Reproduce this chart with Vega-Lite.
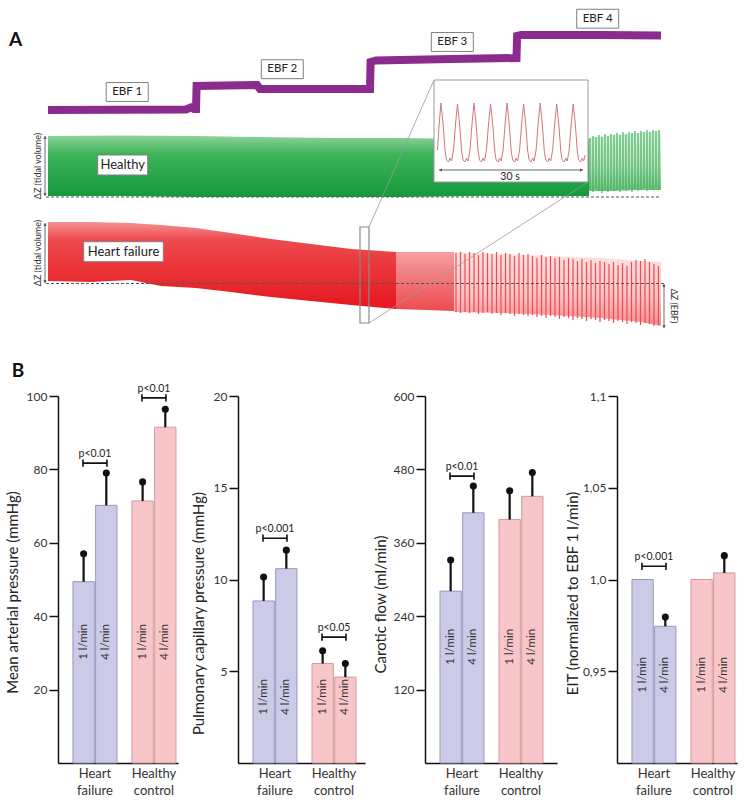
{
  "$schema": "https://vega.github.io/schema/vega-lite/v6.json",
  "padding": {"left": 5, "top": 0, "right": 0, "bottom": 0},
  "background": "white",
  "config": {
    "view": {"stroke": null},
    "font": "Lato",
    "text": {"font": "Lato"},
    "axisY": {"domainColor": "#111", "domainWidth": 1.5, "tickColor": "#111", "tickWidth": 1.5, "tickSize": 9, "labelFont": "Lato", "labelFontSize": 12, "labelColor": "#333", "labelPadding": 2, "titleFont": "Lato", "titleFontSize": 15, "titleFontWeight": "normal", "titleColor": "#222", "grid": false},
    "axisX": {"domainColor": "#111", "domainWidth": 1.5, "ticks": false, "labelFont": "Lato", "labelFontSize": 13, "labelColor": "#333", "labelPadding": 4, "labelLineHeight": 17, "labelAngle": 0, "labelBaseline": "top", "grid": false, "title": null}
  },
  "datasets": {
    "bars": [
      {"panel": "MAP", "group": "HF", "flow": "1 l/min", "value": 49.4, "err": 57.0},
      {"panel": "MAP", "group": "HF", "flow": "4 l/min", "value": 70.2, "err": 79.0},
      {"panel": "MAP", "group": "HC", "flow": "1 l/min", "value": 71.4, "err": 76.6},
      {"panel": "MAP", "group": "HC", "flow": "4 l/min", "value": 91.5, "err": 96.4},
      {"panel": "PCP", "group": "HF", "flow": "1 l/min", "value": 8.83, "err": 10.14},
      {"panel": "PCP", "group": "HF", "flow": "4 l/min", "value": 10.59, "err": 11.6},
      {"panel": "PCP", "group": "HC", "flow": "1 l/min", "value": 5.42, "err": 6.12},
      {"panel": "PCP", "group": "HC", "flow": "4 l/min", "value": 4.68, "err": 5.42},
      {"panel": "CF", "group": "HF", "flow": "1 l/min", "value": 281, "err": 332},
      {"panel": "CF", "group": "HF", "flow": "4 l/min", "value": 409, "err": 453},
      {"panel": "CF", "group": "HC", "flow": "1 l/min", "value": 398, "err": 445},
      {"panel": "CF", "group": "HC", "flow": "4 l/min", "value": 436, "err": 475},
      {"panel": "EIT", "group": "HF", "flow": "1 l/min", "value": 1.0, "err": null},
      {"panel": "EIT", "group": "HF", "flow": "4 l/min", "value": 0.9745, "err": 0.9795},
      {"panel": "EIT", "group": "HC", "flow": "1 l/min", "value": 1.0, "err": null},
      {"panel": "EIT", "group": "HC", "flow": "4 l/min", "value": 1.0036, "err": 1.013}
    ],
    "sig": [
      {"panel": "MAP", "group": "HF", "p": 81.7, "label": "p<0.01"},
      {"panel": "MAP", "group": "HC", "p": 99.5, "label": "p<0.01"},
      {"panel": "PCP", "group": "HF", "p": 12.25, "label": "p<0.001"},
      {"panel": "PCP", "group": "HC", "p": 6.86, "label": "p<0.05"},
      {"panel": "CF", "group": "HF", "p": 469, "label": "p<0.01"},
      {"panel": "EIT", "group": "HF", "p": 1.0072, "label": "p<0.001"}
    ]
  },
  "bounds": "flush",
  "spacing": 56,
  "vconcat": [
    {
      "width": 692,
      "height": 340,
      "encoding": {
        "x": {"field": "t", "type": "quantitative", "scale": {"domain": [57, 749], "nice": false, "zero": false}, "axis": null},
        "y": {"field": "s", "type": "quantitative", "scale": {"domain": [0, 340], "nice": false, "zero": false, "reverse": true}, "axis": null}
      },
      "layer": [
        {
          "data": {"values": [
            {"t": 63.3, "kind": "minor"}, {"t": 82.7, "kind": "major"}, {"t": 102.3, "kind": "minor"}, {"t": 121.7, "kind": "minor"}, {"t": 141, "kind": "minor"}, {"t": 160.7, "kind": "minor"}, {"t": 180, "kind": "major"}, {"t": 199.5, "kind": "minor"}, {"t": 219, "kind": "minor"}, {"t": 238.5, "kind": "minor"}, {"t": 258, "kind": "minor"}, {"t": 277.5, "kind": "major"}, {"t": 297, "kind": "minor"}, {"t": 316.5, "kind": "minor"}, {"t": 336, "kind": "minor"}, {"t": 355.5, "kind": "minor"}, {"t": 375, "kind": "major"}, {"t": 394.5, "kind": "minor"}, {"t": 414, "kind": "minor"}, {"t": 433.5, "kind": "minor"}, {"t": 453, "kind": "minor"}, {"t": 472.5, "kind": "major"}, {"t": 492, "kind": "minor"}, {"t": 511.5, "kind": "minor"}, {"t": 531, "kind": "minor"}, {"t": 550.5, "kind": "minor"}, {"t": 570, "kind": "major"}, {"t": 589.5, "kind": "minor"}, {"t": 609, "kind": "minor"}, {"t": 628.5, "kind": "minor"}, {"t": 648, "kind": "minor"}
          ]},
          "mark": {"type": "rule", "strokeWidth": 1},
          "encoding": {
            "y": {"datum": 30}, "y2": {"datum": 119},
            "color": {"field": "kind", "type": "nominal", "scale": {"domain": ["minor", "major"], "range": ["#c2e6f2", "#86cde6"]}, "legend": null}
          }
        },
        {
          "data": {"values": [
            {"s": 32.3, "kind": "major"}, {"s": 38.7, "kind": "minor"}, {"s": 45, "kind": "minor"}, {"s": 51.4, "kind": "minor"}, {"s": 57.8, "kind": "minor"}, {"s": 64.2, "kind": "minor"}, {"s": 70.6, "kind": "minor"}, {"s": 77, "kind": "minor"}, {"s": 83.4, "kind": "major"}, {"s": 89.8, "kind": "minor"}, {"s": 96.2, "kind": "minor"}, {"s": 102.6, "kind": "minor"}, {"s": 109, "kind": "minor"}, {"s": 115.4, "kind": "minor"}
          ]},
          "mark": {"type": "rule", "strokeWidth": 1},
          "encoding": {
            "x": {"datum": 47}, "x2": {"datum": 660},
            "color": {"field": "kind", "type": "nominal", "scale": {"domain": ["minor", "major"], "range": ["#c2e6f2", "#86cde6"]}, "legend": null}
          }
        },
        {
          "data": {"values": [
            {"t": 47, "hi": 136, "lo": 196}, {"t": 120, "hi": 135.5, "lo": 196}, {"t": 195, "hi": 136, "lo": 197}, {"t": 260, "hi": 137, "lo": 197}, {"t": 330, "hi": 138, "lo": 197}, {"t": 400, "hi": 138, "lo": 197}, {"t": 470, "hi": 139, "lo": 196}, {"t": 540, "hi": 139, "lo": 196}, {"t": 588, "hi": 139, "lo": 196}
          ]},
          "mark": {"type": "area", "color": {"gradient": "linear", "x1": 0, "y1": 0, "x2": 0, "y2": 1, "stops": [{"offset": 0, "color": "#8fd39a"}, {"offset": 0.3, "color": "#3fb35a"}, {"offset": 1, "color": "#14993c"}]}},
          "encoding": {"y": {"field": "hi", "type": "quantitative"}, "y2": {"field": "lo"}}
        },
        {
          "data": {"values": [
            {"t": 588, "hi": 138, "lo": 191}, {"t": 610, "hi": 135, "lo": 191}, {"t": 635, "hi": 133, "lo": 190}, {"t": 660, "hi": 131, "lo": 190}
          ]},
          "mark": {"type": "area", "color": {"gradient": "linear", "x1": 0, "y1": 0, "x2": 0, "y2": 1, "stops": [{"offset": 0, "color": "#e1f3e4"}, {"offset": 0.6, "color": "#b5e1bc"}, {"offset": 1, "color": "#6cc27c"}]}},
          "encoding": {"y": {"field": "hi", "type": "quantitative"}, "y2": {"field": "lo"}}
        },
        {
          "data": {"values": [
            {"t": 589, "hi": 138, "lo": 190}, {"t": 592, "hi": 136, "lo": 192}, {"t": 595, "hi": 137, "lo": 189}, {"t": 598, "hi": 135, "lo": 191}, {"t": 601, "hi": 137, "lo": 193}, {"t": 604, "hi": 134, "lo": 190}, {"t": 607, "hi": 136, "lo": 192}, {"t": 610, "hi": 134, "lo": 189}, {"t": 613, "hi": 135, "lo": 191}, {"t": 616, "hi": 133, "lo": 190}, {"t": 619, "hi": 135, "lo": 192}, {"t": 622, "hi": 132, "lo": 189}, {"t": 625, "hi": 134, "lo": 191}, {"t": 628, "hi": 132, "lo": 190}, {"t": 631, "hi": 133, "lo": 192}, {"t": 634, "hi": 131, "lo": 189}, {"t": 637, "hi": 133, "lo": 191}, {"t": 640, "hi": 131, "lo": 190}, {"t": 643, "hi": 132, "lo": 188}, {"t": 646, "hi": 130, "lo": 191}, {"t": 649, "hi": 132, "lo": 189}, {"t": 652, "hi": 130, "lo": 190}, {"t": 655, "hi": 131, "lo": 188}, {"t": 658, "hi": 130, "lo": 190}
          ]},
          "mark": {"type": "rule", "color": "#3aae55", "strokeWidth": 1.1},
          "encoding": {"y": {"field": "hi", "type": "quantitative"}, "y2": {"field": "lo"}}
        },
        {
          "data": {"values": [
            {"t": 47, "hi": 222, "lo": 281}, {"t": 90, "hi": 222, "lo": 282}, {"t": 130, "hi": 223, "lo": 280}, {"t": 160, "hi": 225, "lo": 286}, {"t": 195, "hi": 228, "lo": 288}, {"t": 230, "hi": 233, "lo": 292}, {"t": 270, "hi": 239, "lo": 297}, {"t": 310, "hi": 244, "lo": 301}, {"t": 350, "hi": 249, "lo": 305}, {"t": 395, "hi": 252, "lo": 309}
          ]},
          "mark": {"type": "area", "color": {"gradient": "linear", "x1": 0, "y1": 0, "x2": 0, "y2": 1, "stops": [{"offset": 0, "color": "#f49294"}, {"offset": 0.2, "color": "#ee4a4e"}, {"offset": 1, "color": "#e4171d"}]}},
          "encoding": {"y": {"field": "hi", "type": "quantitative"}, "y2": {"field": "lo"}}
        },
        {
          "data": {"values": [
            {"t": 395, "hi": 252, "lo": 309}, {"t": 425, "hi": 252, "lo": 310}, {"t": 453, "hi": 252, "lo": 311}
          ]},
          "mark": {"type": "area", "color": {"gradient": "linear", "x1": 0, "y1": 0, "x2": 0, "y2": 1, "stops": [{"offset": 0, "color": "#f59fa1"}, {"offset": 1, "color": "#ec4a4e"}]}},
          "encoding": {"y": {"field": "hi", "type": "quantitative"}, "y2": {"field": "lo"}}
        },
        {
          "data": {"values": [
            {"t": 453, "hi": 252, "lo": 312}, {"t": 500, "hi": 254, "lo": 313}, {"t": 550, "hi": 256, "lo": 315}, {"t": 600, "hi": 258, "lo": 318}, {"t": 640, "hi": 261, "lo": 322}, {"t": 660, "hi": 262, "lo": 326}
          ]},
          "mark": {"type": "area", "color": {"gradient": "linear", "x1": 0, "y1": 0, "x2": 0, "y2": 1, "stops": [{"offset": 0, "color": "#fde3e3"}, {"offset": 0.6, "color": "#f9c2c3"}, {"offset": 1, "color": "#f28c8f"}]}},
          "encoding": {"y": {"field": "hi", "type": "quantitative"}, "y2": {"field": "lo"}}
        },
        {
          "data": {"values": [
            {"t": 455, "hi": 253, "lo": 312}, {"t": 459.5, "hi": 252, "lo": 313}, {"t": 464, "hi": 254, "lo": 312}, {"t": 468.5, "hi": 252, "lo": 313}, {"t": 473, "hi": 253, "lo": 312}, {"t": 477.5, "hi": 255, "lo": 314}, {"t": 482, "hi": 252, "lo": 313}, {"t": 486.5, "hi": 253, "lo": 312}, {"t": 491, "hi": 254, "lo": 314}, {"t": 495.5, "hi": 252, "lo": 313}, {"t": 500, "hi": 255, "lo": 315}, {"t": 504.5, "hi": 253, "lo": 313}, {"t": 509, "hi": 254, "lo": 314}, {"t": 513.5, "hi": 256, "lo": 316}, {"t": 518, "hi": 253, "lo": 314}, {"t": 522.5, "hi": 255, "lo": 315}, {"t": 527, "hi": 254, "lo": 316}, {"t": 531.5, "hi": 256, "lo": 315}, {"t": 536, "hi": 258, "lo": 317}, {"t": 540.5, "hi": 255, "lo": 316}, {"t": 545, "hi": 257, "lo": 318}, {"t": 549.5, "hi": 256, "lo": 316}, {"t": 554, "hi": 258, "lo": 317}, {"t": 558.5, "hi": 257, "lo": 319}, {"t": 563, "hi": 260, "lo": 317}, {"t": 567.5, "hi": 258, "lo": 318}, {"t": 572, "hi": 259, "lo": 320}, {"t": 576.5, "hi": 261, "lo": 318}, {"t": 581, "hi": 259, "lo": 319}, {"t": 585.5, "hi": 262, "lo": 321}, {"t": 590, "hi": 260, "lo": 319}, {"t": 594.5, "hi": 263, "lo": 320}, {"t": 599, "hi": 261, "lo": 322}, {"t": 603.5, "hi": 262, "lo": 320}, {"t": 608, "hi": 264, "lo": 321}, {"t": 612.5, "hi": 262, "lo": 323}, {"t": 617, "hi": 265, "lo": 321}, {"t": 621.5, "hi": 263, "lo": 322}, {"t": 626, "hi": 266, "lo": 324}, {"t": 630.5, "hi": 262, "lo": 322}, {"t": 635, "hi": 260, "lo": 323}, {"t": 639.5, "hi": 261, "lo": 325}, {"t": 644, "hi": 259, "lo": 323}, {"t": 648.5, "hi": 262, "lo": 324}, {"t": 653, "hi": 264, "lo": 326}, {"t": 657.5, "hi": 266, "lo": 325}
          ]},
          "mark": {"type": "rule", "color": "#ee4a4f", "strokeWidth": 1.2},
          "encoding": {"y": {"field": "hi", "type": "quantitative"}, "y2": {"field": "lo"}}
        },
        {
          "data": {"values": [{"t": 195.5}, {"t": 370}, {"t": 516}]},
          "mark": {"type": "rule", "strokeDash": [7, 2, 1.5, 2], "color": "#333", "strokeWidth": 1},
          "encoding": {"y": {"datum": 28}, "y2": {"datum": 326}}
        },
        {
          "data": {"values": [
            {"t": 47, "s": 110}, {"t": 185, "s": 109.5}, {"t": 190, "s": 107.5}, {"t": 193, "s": 109}, {"t": 195, "s": 109}, {"t": 195.6, "s": 86}, {"t": 256, "s": 85}, {"t": 259, "s": 89}, {"t": 369, "s": 89}, {"t": 369.6, "s": 62}, {"t": 375, "s": 60.5}, {"t": 450, "s": 59}, {"t": 515.5, "s": 58}, {"t": 516.1, "s": 36}, {"t": 520, "s": 35}, {"t": 600, "s": 35}, {"t": 660, "s": 35.5}
          ]},
          "mark": {"type": "line", "color": "#8b2b8e", "strokeWidth": 8, "strokeCap": "butt", "strokeJoin": "miter"}
        },
        {
          "data": {"values": [{"t": 45, "t2": 660, "s": 197}, {"t": 45, "t2": 663, "s": 283.5}]},
          "mark": {"type": "rule", "strokeDash": [3, 2], "color": "#555", "strokeWidth": 1},
          "encoding": {"x2": {"field": "t2"}}
        },
        {
          "data": {"values": [{"t": 359, "t2": 368, "s": 227, "s2": 323}]},
          "mark": {"type": "rect", "fill": "transparent", "stroke": "#8a8a8a", "strokeWidth": 1.2},
          "encoding": {"x2": {"field": "t2"}, "y2": {"field": "s2"}}
        },
        {
          "data": {"values": [{"t": 368, "s": 227, "t2": 433, "s2": 80}, {"t": 368, "s": 323, "t2": 587, "s2": 182}]},
          "mark": {"type": "rule", "color": "#9a9a9a", "strokeWidth": 0.8},
          "encoding": {"x2": {"field": "t2"}, "y2": {"field": "s2"}}
        },
        {
          "data": {"values": [{"t": 433, "t2": 587, "s": 80, "s2": 182}]},
          "mark": {"type": "rect", "fill": "white", "stroke": "#9a9a9a", "strokeWidth": 1},
          "encoding": {"x2": {"field": "t2"}, "y2": {"field": "s2"}}
        },
        {
          "data": {"values": [
            {"t": 436.5, "s": 150}, {"t": 438.2, "s": 124},
            {"t": 440, "s": 103}, {"t": 442.2, "s": 125}, {"t": 444, "s": 150}, {"t": 445.5, "s": 160}, {"t": 447.5, "s": 162}, {"t": 449, "s": 158}, {"t": 450.5, "s": 161}, {"t": 452.5, "s": 150}, {"t": 454.5, "s": 124},
            {"t": 456.5, "s": 104}, {"t": 458.7, "s": 125}, {"t": 460.5, "s": 150}, {"t": 462, "s": 160}, {"t": 464, "s": 162}, {"t": 465.5, "s": 158}, {"t": 467, "s": 161}, {"t": 469, "s": 150}, {"t": 471, "s": 124},
            {"t": 473, "s": 103}, {"t": 475.2, "s": 125}, {"t": 477, "s": 150}, {"t": 478.5, "s": 160}, {"t": 480.5, "s": 162}, {"t": 482, "s": 158}, {"t": 483.5, "s": 161}, {"t": 485.5, "s": 150}, {"t": 487.5, "s": 124},
            {"t": 489.6, "s": 104}, {"t": 491.8, "s": 125}, {"t": 493.6, "s": 150}, {"t": 495.1, "s": 160}, {"t": 497.1, "s": 162}, {"t": 498.6, "s": 158}, {"t": 500.1, "s": 161}, {"t": 502.1, "s": 150}, {"t": 504.1, "s": 124},
            {"t": 506.1, "s": 103}, {"t": 508.3, "s": 125}, {"t": 510.1, "s": 150}, {"t": 511.6, "s": 160}, {"t": 513.6, "s": 162}, {"t": 515.1, "s": 158}, {"t": 516.6, "s": 161}, {"t": 518.6, "s": 150}, {"t": 520.6, "s": 124},
            {"t": 522.6, "s": 104}, {"t": 524.8, "s": 125}, {"t": 526.6, "s": 150}, {"t": 528.1, "s": 160}, {"t": 530.1, "s": 162}, {"t": 531.6, "s": 158}, {"t": 533.1, "s": 161}, {"t": 535.1, "s": 150}, {"t": 537.1, "s": 124},
            {"t": 539.2, "s": 103}, {"t": 541.4, "s": 125}, {"t": 543.2, "s": 150}, {"t": 544.7, "s": 160}, {"t": 546.7, "s": 162}, {"t": 548.2, "s": 158}, {"t": 549.7, "s": 161}, {"t": 551.7, "s": 150}, {"t": 553.7, "s": 124},
            {"t": 555.7, "s": 104}, {"t": 557.9, "s": 125}, {"t": 559.7, "s": 150}, {"t": 561.2, "s": 160}, {"t": 563.2, "s": 162}, {"t": 564.7, "s": 158}, {"t": 566.2, "s": 161}, {"t": 568.2, "s": 150}, {"t": 570.2, "s": 124},
            {"t": 572.2, "s": 104}, {"t": 574.4, "s": 125}, {"t": 576.2, "s": 150}, {"t": 577.7, "s": 160}, {"t": 579.7, "s": 162}, {"t": 581.2, "s": 158}, {"t": 582.7, "s": 161}, {"t": 584.2, "s": 155}
          ]},
          "mark": {"type": "line", "color": "#d4767c", "strokeWidth": 1}
        },
        {
          "data": {"values": [{"t": 44, "s": 136, "t2": 44, "s2": 196}, {"t": 44, "s": 223, "t2": 44, "s2": 283}, {"t": 663, "s": 284, "t2": 663, "s2": 328}, {"t": 438, "s": 170, "t2": 582, "s2": 170}]},
          "mark": {"type": "rule", "color": "#444", "strokeWidth": 0.8},
          "encoding": {"x2": {"field": "t2"}, "y2": {"field": "s2"}}
        },
        {
          "data": {"values": [
            {"t": 44, "s": 137.5, "dir": "up"}, {"t": 44, "s": 194.5, "dir": "down"}, {"t": 44, "s": 224.5, "dir": "up"}, {"t": 44, "s": 281.5, "dir": "down"}, {"t": 663, "s": 285.5, "dir": "up"}, {"t": 663, "s": 326.5, "dir": "down"}, {"t": 439.5, "s": 170, "dir": "left"}, {"t": 580.5, "s": 170, "dir": "right"}
          ]},
          "mark": {"type": "point", "filled": true, "size": 10, "color": "#444", "opacity": 1},
          "encoding": {"shape": {"field": "dir", "type": "nominal", "scale": {"domain": ["up", "down", "left", "right"], "range": ["triangle-up", "triangle-down", "triangle-left", "triangle-right"]}, "legend": null}}
        },
        {
          "data": {"values": [{"t": 126.2, "s": 92, "label": "EBF 1"}, {"t": 281.3, "s": 69.2, "label": "EBF 2"}, {"t": 451.3, "s": 42, "label": "EBF 3"}, {"t": 596.7, "s": 18.7, "label": "EBF 4"}]},
          "layer": [
            {"mark": {"type": "point", "shape": "M-1,-0.45H1V0.45H-1Z", "size": 1764, "filled": true, "color": "white", "stroke": "#808080", "strokeWidth": 1, "opacity": 1}},
            {"mark": {"type": "text", "fontSize": 11.5, "color": "#222", "baseline": "middle", "align": "center"}, "encoding": {"text": {"field": "label"}}}
          ]
        },
        {
          "data": {"values": [{"t": 121.7, "s": 165, "label": "Healthy"}]},
          "mark": {"type": "point", "shape": "M-1,-0.4H1V0.4H-1Z", "size": 2500, "filled": true, "color": "white", "stroke": "#808080", "strokeWidth": 1, "opacity": 1}
        },
        {
          "data": {"values": [{"t": 122.5, "s": 251.7, "label": "Heart failure"}]},
          "mark": {"type": "point", "shape": "M-1,-0.251H1V0.251H-1Z", "size": 6336, "filled": true, "color": "white", "stroke": "#808080", "strokeWidth": 1, "opacity": 1}
        },
        {
          "data": {"values": [{"t": 121.7, "s": 165, "label": "Healthy"}, {"t": 122.5, "s": 251.7, "label": "Heart failure"}]},
          "mark": {"type": "text", "fontSize": 13, "color": "#222", "baseline": "middle", "align": "center"},
          "encoding": {"text": {"field": "label"}}
        },
        {
          "data": {"values": [{"t": 14.5, "s": 40, "label": "A"}, {"t": 17, "s": 371, "label": "B"}]},
          "mark": {"type": "text", "fontSize": 19, "fontWeight": "bold", "color": "#111", "baseline": "middle", "align": "center"},
          "encoding": {"text": {"field": "label"}}
        },
        {
          "data": {"values": [{"t": 37, "s": 166, "label": "ΔZ (tidal volume)"}, {"t": 37, "s": 253, "label": "ΔZ (tidal volume)"}]},
          "mark": {"type": "text", "fontSize": 9, "color": "#333", "angle": 270, "baseline": "middle", "align": "center"},
          "encoding": {"text": {"field": "label"}}
        },
        {
          "data": {"values": [{"t": 673, "s": 306, "label": "ΔZ (EBF)"}]},
          "mark": {"type": "text", "fontSize": 9, "color": "#333", "angle": 90, "baseline": "middle", "align": "center"},
          "encoding": {"text": {"field": "label"}}
        },
        {
          "data": {"values": [{"t": 509, "s": 176.5, "label": "30 s"}]},
          "mark": {"type": "text", "fontSize": 10.5, "color": "#222", "baseline": "middle", "align": "center"},
          "encoding": {"text": {"field": "label"}}
        }
      ]
    },
    {
      "bounds": "flush",
      "spacing": 60,
      "hconcat": [
        {
          "width": 120, "height": 367,
          "data": {"name": "bars"},
          "encoding": {"x": {"field": "group", "type": "nominal", "scale": {"domain": ["HF", "HC"], "paddingInner": 0.254, "paddingOuter": 0.144, "align": 0.88}, "axis": {"labelExpr": "datum.value == 'HF' ? ['Heart','failure'] : ['Healthy','control']", "title": null}}},
          "layer": [
            {"transform": [{"filter": "datum.panel == 'MAP'"}], "mark": {"type": "bar", "strokeWidth": 1},
             "encoding": {
               "xOffset": {"field": "flow", "type": "nominal", "scale": {"domain": ["1 l/min", "4 l/min"], "paddingInner": 0.06, "paddingOuter": 0}},
               "y": {"field": "value", "type": "quantitative", "scale": {"domain": [0, 100], "nice": false}, "axis": {"values": [20, 40, 60, 80, 100], "title": "Mean arterial pressure (mmHg)", "titlePadding": 6, "titleY": 196}},
               "fill": {"field": "group", "type": "nominal", "scale": {"domain": ["HF", "HC"], "range": ["#cccbe7", "#f8c6c8"]}, "legend": null},
               "stroke": {"field": "group", "type": "nominal", "scale": {"domain": ["HF", "HC"], "range": ["#9896c2", "#cf9c9e"]}, "legend": null}}},
            {"transform": [{"filter": "datum.panel == 'MAP' && datum.err != null"}], "mark": {"type": "rule", "color": "#111", "strokeWidth": 2.2},
             "encoding": {"xOffset": {"field": "flow", "type": "nominal"}, "y": {"field": "value", "type": "quantitative"}, "y2": {"field": "err"}}},
            {"transform": [{"filter": "datum.panel == 'MAP' && datum.err != null"}], "mark": {"type": "point", "filled": true, "size": 50, "color": "#111", "opacity": 1},
             "encoding": {"xOffset": {"field": "flow", "type": "nominal"}, "y": {"field": "err", "type": "quantitative"}}},
            {"transform": [{"filter": "datum.panel == 'MAP'"}], "mark": {"type": "text", "angle": 270, "fontSize": 11.5, "color": "#333", "baseline": "middle", "align": "center"},
             "encoding": {"xOffset": {"field": "flow", "type": "nominal"}, "y": {"datum": 33}, "text": {"field": "flow"}}},
            {"data": {"name": "sig"}, "transform": [{"filter": "datum.panel == 'MAP'"}], "mark": {"type": "point", "shape": "M-1,-0.3V0.3M-1,0H1M1,-0.3V0.3", "size": 576, "filled": false, "stroke": "#111", "strokeWidth": 1.6, "opacity": 1},
             "encoding": {"y": {"field": "p", "type": "quantitative"}}},
            {"data": {"name": "sig"}, "transform": [{"filter": "datum.panel == 'MAP'"}], "mark": {"type": "text", "fontSize": 10.5, "color": "#222", "baseline": "alphabetic", "align": "center", "dy": -6},
             "encoding": {"y": {"field": "p", "type": "quantitative"}, "text": {"field": "label"}}}
          ]
        },
        {
          "width": 127, "height": 367,
          "data": {"name": "bars"},
          "encoding": {"x": {"field": "group", "type": "nominal", "scale": {"domain": ["HF", "HC"], "paddingInner": 0.254, "paddingOuter": 0.203, "align": 0.625}, "axis": {"labelExpr": "datum.value == 'HF' ? ['Heart','failure'] : ['Healthy','control']", "title": null}}},
          "layer": [
            {"transform": [{"filter": "datum.panel == 'PCP'"}], "mark": {"type": "bar", "strokeWidth": 1},
             "encoding": {
               "xOffset": {"field": "flow", "type": "nominal", "scale": {"domain": ["1 l/min", "4 l/min"], "paddingInner": 0.06, "paddingOuter": 0}},
               "y": {"field": "value", "type": "quantitative", "scale": {"domain": [0, 20], "nice": false}, "axis": {"values": [5, 10, 15, 20], "title": "Pulmonary capillary pressure (mmHg)", "titlePadding": 7, "titleY": 217}},
               "fill": {"field": "group", "type": "nominal", "scale": {"domain": ["HF", "HC"], "range": ["#cccbe7", "#f8c6c8"]}, "legend": null},
               "stroke": {"field": "group", "type": "nominal", "scale": {"domain": ["HF", "HC"], "range": ["#9896c2", "#cf9c9e"]}, "legend": null}}},
            {"transform": [{"filter": "datum.panel == 'PCP' && datum.err != null"}], "mark": {"type": "rule", "color": "#111", "strokeWidth": 2.2},
             "encoding": {"xOffset": {"field": "flow", "type": "nominal"}, "y": {"field": "value", "type": "quantitative"}, "y2": {"field": "err"}}},
            {"transform": [{"filter": "datum.panel == 'PCP' && datum.err != null"}], "mark": {"type": "point", "filled": true, "size": 50, "color": "#111", "opacity": 1},
             "encoding": {"xOffset": {"field": "flow", "type": "nominal"}, "y": {"field": "err", "type": "quantitative"}}},
            {"transform": [{"filter": "datum.panel == 'PCP'"}], "mark": {"type": "text", "angle": 270, "fontSize": 11.5, "color": "#333", "baseline": "middle", "align": "center"},
             "encoding": {"xOffset": {"field": "flow", "type": "nominal"}, "y": {"datum": 3.6}, "text": {"field": "flow"}}},
            {"data": {"name": "sig"}, "transform": [{"filter": "datum.panel == 'PCP'"}], "mark": {"type": "point", "shape": "M-1,-0.3V0.3M-1,0H1M1,-0.3V0.3", "size": 576, "filled": false, "stroke": "#111", "strokeWidth": 1.6, "opacity": 1},
             "encoding": {"y": {"field": "p", "type": "quantitative"}}},
            {"data": {"name": "sig"}, "transform": [{"filter": "datum.panel == 'PCP'"}], "mark": {"type": "text", "fontSize": 10.5, "color": "#222", "baseline": "alphabetic", "align": "center", "dy": -6},
             "encoding": {"y": {"field": "p", "type": "quantitative"}, "text": {"field": "label"}}}
          ]
        },
        {
          "width": 132, "height": 367,
          "data": {"name": "bars"},
          "encoding": {"x": {"field": "group", "type": "nominal", "scale": {"domain": ["HF", "HC"], "paddingInner": 0.254, "paddingOuter": 0.2457, "align": 0.517}, "axis": {"labelExpr": "datum.value == 'HF' ? ['Heart','failure'] : ['Healthy','control']", "title": null}}},
          "layer": [
            {"transform": [{"filter": "datum.panel == 'CF'"}], "mark": {"type": "bar", "strokeWidth": 1},
             "encoding": {
               "xOffset": {"field": "flow", "type": "nominal", "scale": {"domain": ["1 l/min", "4 l/min"], "paddingInner": 0.06, "paddingOuter": 0}},
               "y": {"field": "value", "type": "quantitative", "scale": {"domain": [0, 600], "nice": false}, "axis": {"values": [120, 240, 360, 480, 600], "title": "Carotic flow (ml/min)", "titlePadding": 5, "titleY": 208}},
               "fill": {"field": "group", "type": "nominal", "scale": {"domain": ["HF", "HC"], "range": ["#cccbe7", "#f8c6c8"]}, "legend": null},
               "stroke": {"field": "group", "type": "nominal", "scale": {"domain": ["HF", "HC"], "range": ["#9896c2", "#cf9c9e"]}, "legend": null}}},
            {"transform": [{"filter": "datum.panel == 'CF' && datum.err != null"}], "mark": {"type": "rule", "color": "#111", "strokeWidth": 2.2},
             "encoding": {"xOffset": {"field": "flow", "type": "nominal"}, "y": {"field": "value", "type": "quantitative"}, "y2": {"field": "err"}}},
            {"transform": [{"filter": "datum.panel == 'CF' && datum.err != null"}], "mark": {"type": "point", "filled": true, "size": 50, "color": "#111", "opacity": 1},
             "encoding": {"xOffset": {"field": "flow", "type": "nominal"}, "y": {"field": "err", "type": "quantitative"}}},
            {"transform": [{"filter": "datum.panel == 'CF'"}], "mark": {"type": "text", "angle": 270, "fontSize": 11.5, "color": "#333", "baseline": "middle", "align": "center"},
             "encoding": {"xOffset": {"field": "flow", "type": "nominal"}, "y": {"datum": 190}, "text": {"field": "flow"}}},
            {"data": {"name": "sig"}, "transform": [{"filter": "datum.panel == 'CF'"}], "mark": {"type": "point", "shape": "M-1,-0.3V0.3M-1,0H1M1,-0.3V0.3", "size": 576, "filled": false, "stroke": "#111", "strokeWidth": 1.6, "opacity": 1},
             "encoding": {"y": {"field": "p", "type": "quantitative"}}},
            {"data": {"name": "sig"}, "transform": [{"filter": "datum.panel == 'CF'"}], "mark": {"type": "text", "fontSize": 10.5, "color": "#222", "baseline": "alphabetic", "align": "center", "dy": -6},
             "encoding": {"y": {"field": "p", "type": "quantitative"}, "text": {"field": "label"}}}
          ]
        },
        {
          "width": 120, "height": 367,
          "data": {"name": "bars"},
          "encoding": {"x": {"field": "group", "type": "nominal", "scale": {"domain": ["HF", "HC"], "paddingInner": 0.254, "paddingOuter": 0.144, "align": 0.88}, "axis": {"labelExpr": "datum.value == 'HF' ? ['Heart','failure'] : ['Healthy','control']", "title": null}}},
          "layer": [
            {"transform": [{"filter": "datum.panel == 'EIT'"}], "mark": {"type": "bar", "strokeWidth": 1},
             "encoding": {
               "xOffset": {"field": "flow", "type": "nominal", "scale": {"domain": ["1 l/min", "4 l/min"], "paddingInner": 0.06, "paddingOuter": 0}},
               "y": {"field": "value", "type": "quantitative", "scale": {"domain": [0.9, 1.1], "nice": false, "zero": false}, "axis": {"values": [0.95, 1, 1.05, 1.1], "labelExpr": "datum.value == 1.1 ? '1,1' : datum.value == 1.05 ? '1,05' : datum.value == 1 ? '1,0' : '0,95'", "title": "EIT (normalized to EBF 1 l/min)", "titlePadding": 2, "titleY": 197}},
               "y2": {"datum": 0.9},
               "fill": {"field": "group", "type": "nominal", "scale": {"domain": ["HF", "HC"], "range": ["#cccbe7", "#f8c6c8"]}, "legend": null},
               "stroke": {"field": "group", "type": "nominal", "scale": {"domain": ["HF", "HC"], "range": ["#9896c2", "#cf9c9e"]}, "legend": null}}},
            {"transform": [{"filter": "datum.panel == 'EIT' && datum.err != null"}], "mark": {"type": "rule", "color": "#111", "strokeWidth": 2.2},
             "encoding": {"xOffset": {"field": "flow", "type": "nominal"}, "y": {"field": "value", "type": "quantitative"}, "y2": {"field": "err"}}},
            {"transform": [{"filter": "datum.panel == 'EIT' && datum.err != null"}], "mark": {"type": "point", "filled": true, "size": 50, "color": "#111", "opacity": 1},
             "encoding": {"xOffset": {"field": "flow", "type": "nominal"}, "y": {"field": "err", "type": "quantitative"}}},
            {"transform": [{"filter": "datum.panel == 'EIT'"}], "mark": {"type": "text", "angle": 270, "fontSize": 11.5, "color": "#333", "baseline": "middle", "align": "center"},
             "encoding": {"xOffset": {"field": "flow", "type": "nominal"}, "y": {"datum": 0.948}, "text": {"field": "flow"}}},
            {"data": {"name": "sig"}, "transform": [{"filter": "datum.panel == 'EIT'"}], "mark": {"type": "point", "shape": "M-1,-0.3V0.3M-1,0H1M1,-0.3V0.3", "size": 576, "filled": false, "stroke": "#111", "strokeWidth": 1.6, "opacity": 1},
             "encoding": {"y": {"field": "p", "type": "quantitative"}}},
            {"data": {"name": "sig"}, "transform": [{"filter": "datum.panel == 'EIT'"}], "mark": {"type": "text", "fontSize": 10.5, "color": "#222", "baseline": "alphabetic", "align": "center", "dy": -6},
             "encoding": {"y": {"field": "p", "type": "quantitative"}, "text": {"field": "label"}}}
          ]
        }
      ]
    }
  ]
}
